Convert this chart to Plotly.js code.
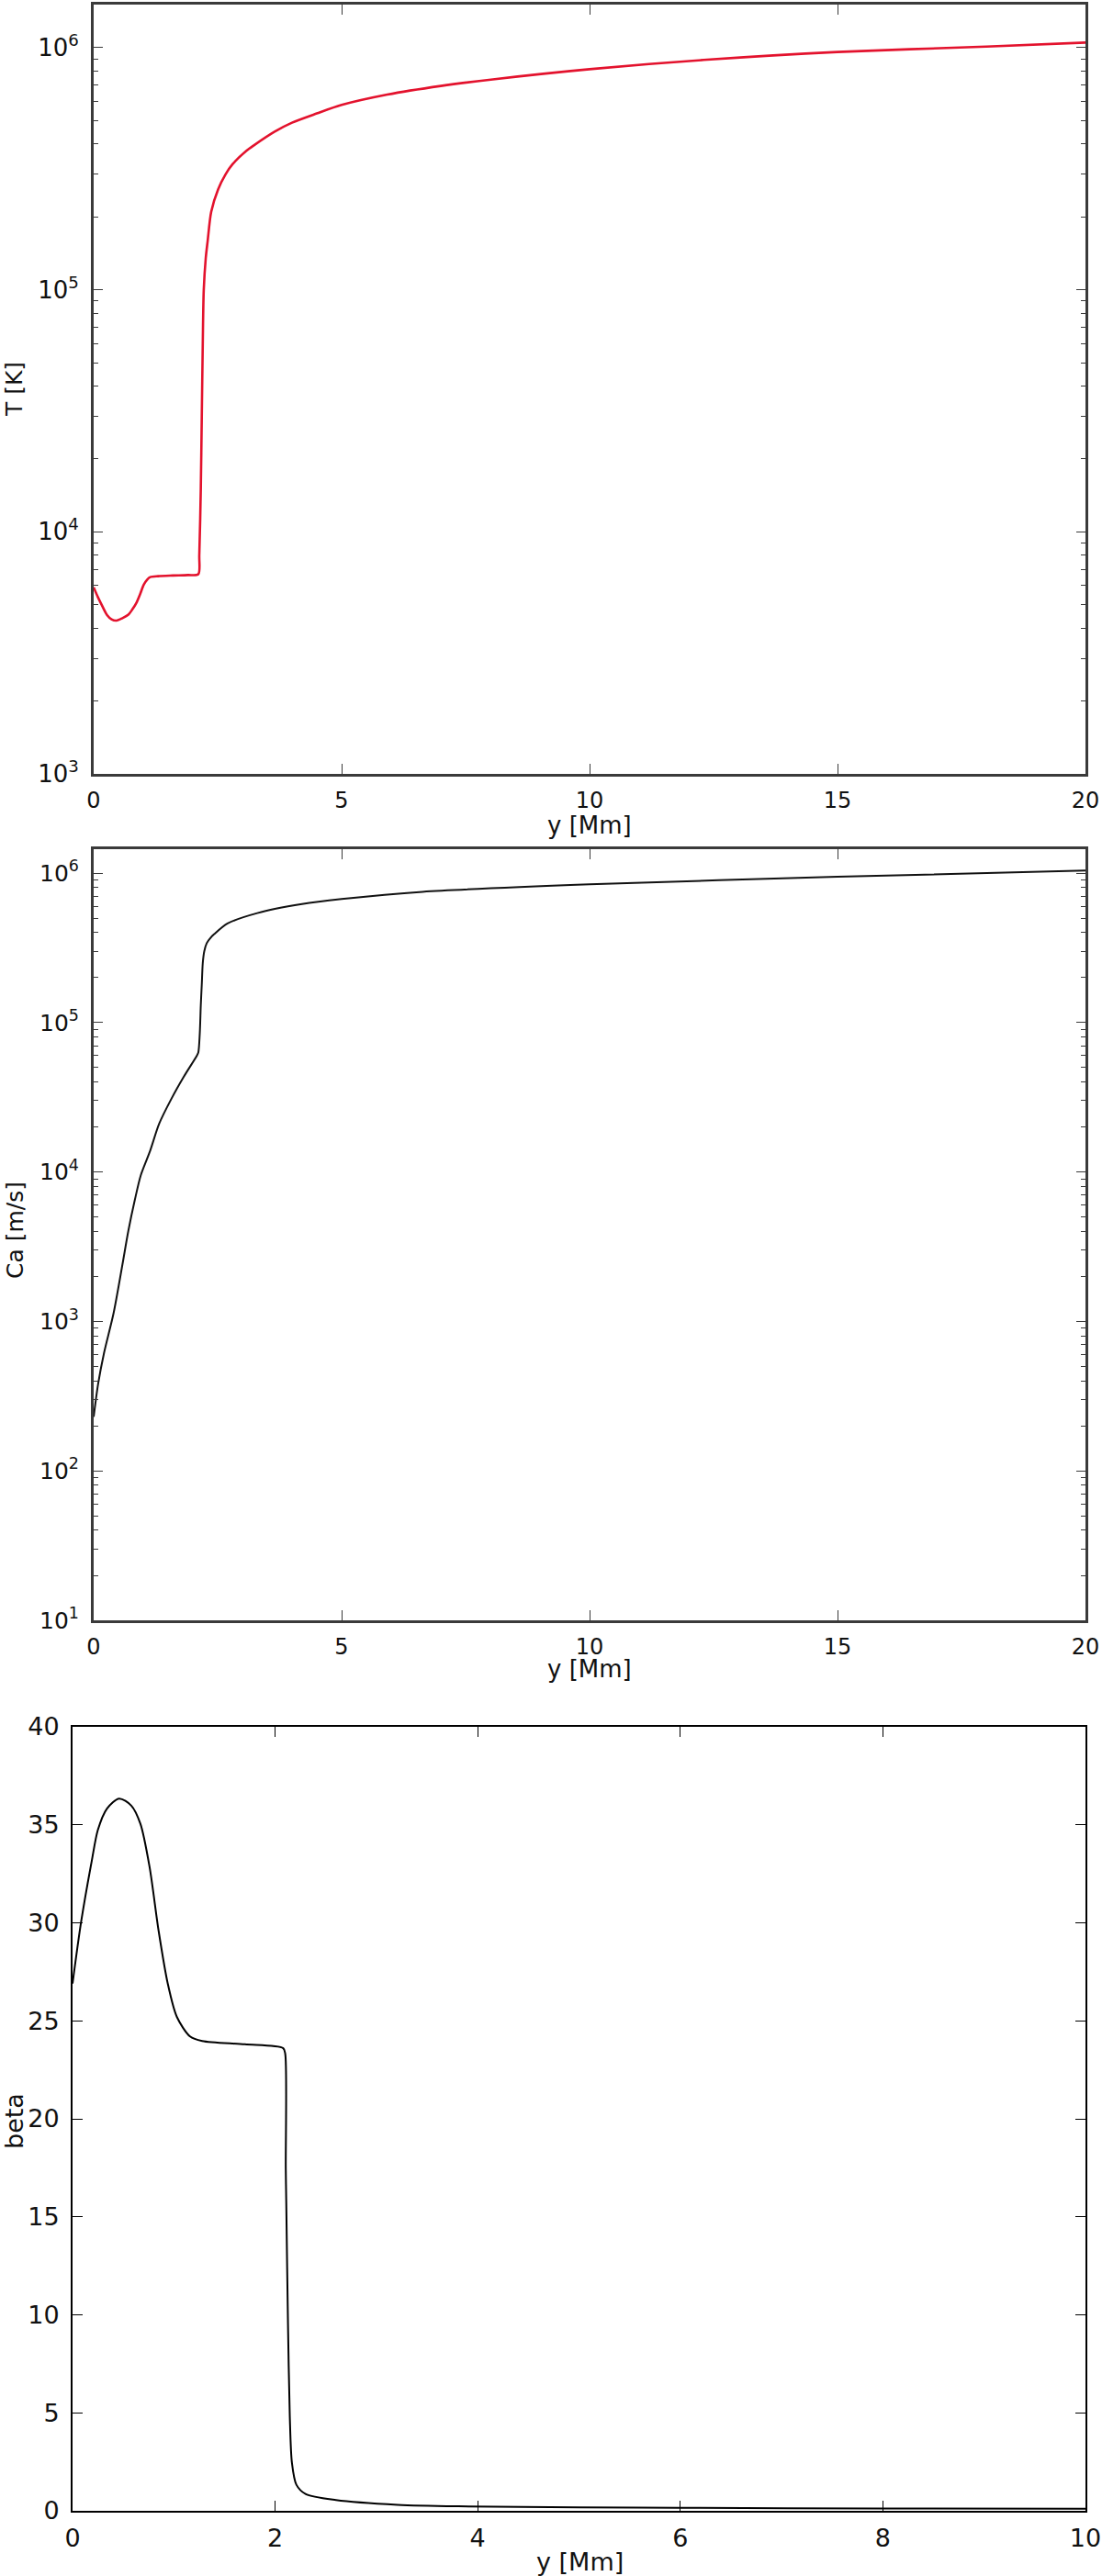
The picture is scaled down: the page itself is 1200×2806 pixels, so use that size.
<!DOCTYPE html>
<html>
<head>
<meta charset="utf-8">
<script src="https://cdn.plot.ly/plotly-3.0.1.min.js"></script>
<style>html,body{margin:0;padding:0;background:#fff;}</style>
</head>
<body>
<div id="chart" style="width:1200px;height:2806px;"></div>
<script>
// ---- Panel 1: temperature T [K] vs height y [Mm]
var yT = [0, 0.08, 0.15, 0.27, 0.36, 0.46, 0.58, 0.70, 0.78, 0.86, 0.94, 1.01, 1.08, 1.14, 1.3, 1.6, 1.9, 2.11,
          2.13, 2.16, 2.18, 2.20, 2.22, 2.26, 2.30, 2.37, 2.51, 2.66, 2.80, 3.08, 3.23, 3.65, 4.0, 4.5, 5.0,
          5.92, 7.0, 8.05, 10.0, 12.3, 15.0, 18.0, 20.0];
var T = [5900, 5400, 5050, 4530, 4350, 4300, 4400, 4550, 4780, 5080, 5550, 6050, 6350, 6500, 6560, 6600, 6630, 6680,
         8000, 15000, 30000, 60000, 100000, 135000, 160000, 210000, 260000, 300000, 330000, 375000, 395000, 450000, 490000, 535000, 580000,
         640000, 695000, 740000, 815000, 890000, 960000, 1010000, 1050000];

// ---- Panel 2: Alfven speed Ca [m/s]
var yCa = [0, 0.09, 0.21, 0.40, 0.58, 0.70, 0.83, 0.95, 1.14, 1.32, 1.57, 1.81, 2.08, 2.11,
           2.14, 2.16, 2.18, 2.20, 2.23, 2.28, 2.36, 2.43, 2.7, 3.3, 4.2, 5.0, 6.63, 10.0, 15.0, 20.0];
var Ca = [230, 382, 617, 1130, 2400, 4050, 6500, 9500, 13900, 21000, 31000, 43000, 60000, 63000,
          85000, 130000, 180000, 250000, 300000, 340000, 370000, 390000, 460000, 540000, 620000, 670000, 750000, 840000, 945000, 1040000];

// ---- Panel 3: plasma beta
var yB = [0, 0.085, 0.19, 0.25, 0.34, 0.46, 0.58, 0.67, 0.76, 0.85, 0.94, 1.03, 1.16, 1.28, 1.70, 2.08,
          2.10, 2.105, 2.11, 2.127, 2.145, 2.166, 2.21, 2.30, 2.60, 3.21, 3.81, 5.0, 6.0, 8.0, 10.0];
var beta = [26.9, 30.06, 33.17, 34.74, 35.83, 36.34, 35.98, 35.05, 32.86, 29.58, 26.9, 25.2, 24.2, 23.97, 23.8, 23.6,
            23.3, 17.5, 15.7, 9.5, 4.78, 2.44, 1.33, 0.86, 0.55, 0.31, 0.23, 0.18, 0.15, 0.12, 0.10];

// ---- Tick labels
var xTicks20 = [0, 5, 10, 15, 20];
var xTicks10 = [0, 2, 4, 6, 8, 10];
var tTicks = [1e3, 1e4, 1e5, 1e6];
var tTickText = ['10<sup>3</sup>', '10<sup>4</sup>', '10<sup>5</sup>', '10<sup>6</sup>'];
var caTicks = [1e1, 1e2, 1e3, 1e4, 1e5, 1e6];
var caTickText = ['10<sup>1</sup>', '10<sup>2</sup>', '10<sup>3</sup>', '10<sup>4</sup>', '10<sup>5</sup>', '10<sup>6</sup>'];
var betaTicks = [0, 5, 10, 15, 20, 25, 30, 35, 40];

function minorLog(lo, hi) {
  var v = [];
  for (var d = lo; d < hi; d++) {
    for (var m = 2; m <= 9; m++) v.push(m * Math.pow(10, d));
  }
  return v;
}

var W = 1200, H = 2806;
function px(x) { return x / W; }
function py(y) { return (H - y) / H; }

var fam = 'DejaVu Sans, Liberation Sans, sans-serif';
var gray = '#3a3a3a';

function xax(dom, anchor, range, vals, col, lw, fs) {
  return {
    domain: dom, anchor: anchor, range: range, tickvals: vals, ticktext: vals.map(String),
    ticks: 'inside', ticklen: 11, tickwidth: 1, tickcolor: col,
    showline: true, linecolor: col, linewidth: lw, mirror: 'ticks',
    showgrid: false, zeroline: false, ticklabelstandoff: 5,
    tickfont: {family: fam, size: fs, color: '#111'}
  };
}

var traces = [
  {x: yT, y: T, type: 'scatter', mode: 'lines', xaxis: 'x', yaxis: 'y',
   line: {color: '#e3122d', width: 2.6, shape: 'spline', smoothing: 0.8}, hoverinfo: 'x+y'},
  {x: yCa, y: Ca, type: 'scatter', mode: 'lines', xaxis: 'x2', yaxis: 'y2',
   line: {color: '#111111', width: 2, shape: 'spline', smoothing: 0.8}, hoverinfo: 'x+y'},
  {x: yB, y: beta, type: 'scatter', mode: 'lines', xaxis: 'x3', yaxis: 'y3',
   line: {color: '#000000', width: 2, shape: 'spline', smoothing: 0.8}, hoverinfo: 'x+y'}
];

var layout = {
  width: W, height: H,
  margin: {l: 0, r: 0, t: 0, b: 0},
  paper_bgcolor: '#ffffff', plot_bgcolor: '#ffffff',
  showlegend: false,
  font: {family: fam, color: '#111'},
  xaxis: xax([px(102), px(1182)], 'y', [0, 20], xTicks20, gray, 3, 24),
  yaxis: {
    domain: [py(843), py(5)], anchor: 'x', type: 'log', range: [3, 6.178],
    tickvals: tTicks, ticktext: tTickText,
    ticks: 'inside', ticklen: 10, tickwidth: 1, tickcolor: gray,
    minor: {tickvals: minorLog(3, 6), ticks: 'inside', ticklen: 5, tickcolor: gray, tickwidth: 1},
    showline: true, linecolor: gray, linewidth: 3, mirror: 'ticks',
    showgrid: false, zeroline: false, ticklabelstandoff: 8,
    tickfont: {family: fam, size: 26, color: '#111'}
  },
  xaxis2: xax([px(102), px(1182)], 'y2', [0, 20], xTicks20, gray, 3, 24),
  yaxis2: {
    domain: [py(1765), py(925)], anchor: 'x2', type: 'log', range: [1, 6.16],
    tickvals: caTicks, ticktext: caTickText,
    ticks: 'inside', ticklen: 10, tickwidth: 1, tickcolor: gray,
    minor: {tickvals: minorLog(1, 6), ticks: 'inside', ticklen: 5, tickcolor: gray, tickwidth: 1},
    showline: true, linecolor: gray, linewidth: 3, mirror: 'ticks',
    showgrid: false, zeroline: false, ticklabelstandoff: 8,
    tickfont: {family: fam, size: 25, color: '#111'}
  },
  xaxis3: xax([px(79), px(1182)], 'y3', [0, 10], xTicks10, '#000', 2, 27),
  yaxis3: {
    domain: [py(2735), py(1881)], anchor: 'x3', range: [0, 40],
    tickvals: betaTicks, ticktext: betaTicks.map(String),
    ticks: 'inside', ticklen: 11, tickwidth: 1, tickcolor: '#000',
    showline: true, linecolor: '#000', linewidth: 2, mirror: 'ticks',
    showgrid: false, zeroline: false, ticklabelstandoff: 7,
    tickfont: {family: fam, size: 27, color: '#111'}
  },
  annotations: [
    {text: 'y [Mm]', xref: 'paper', yref: 'paper', x: px(642), y: py(899), xanchor: 'center', yanchor: 'middle',
     showarrow: false, font: {family: fam, size: 26, color: '#111'}},
    {text: 'y [Mm]', xref: 'paper', yref: 'paper', x: px(642), y: py(1818), xanchor: 'center', yanchor: 'middle',
     showarrow: false, font: {family: fam, size: 26, color: '#111'}},
    {text: 'y [Mm]', xref: 'paper', yref: 'paper', x: px(631), y: py(2790), xanchor: 'center', yanchor: 'middle',
     showarrow: false, font: {family: fam, size: 27, color: '#111'}},
    {text: 'T [K]', xref: 'paper', yref: 'paper', x: px(15), y: py(424), xanchor: 'center', yanchor: 'middle',
     textangle: -90, showarrow: false, font: {family: fam, size: 25, color: '#111'}},
    {text: 'Ca [m/s]', xref: 'paper', yref: 'paper', x: px(16), y: py(1340), xanchor: 'center', yanchor: 'middle',
     textangle: -90, showarrow: false, font: {family: fam, size: 25, color: '#111'}},
    {text: 'beta', xref: 'paper', yref: 'paper', x: px(15), y: py(2311), xanchor: 'center', yanchor: 'middle',
     textangle: -90, showarrow: false, font: {family: fam, size: 27, color: '#111'}}
  ]
};

Plotly.newPlot('chart', traces, layout, {displayModeBar: false, staticPlot: true});
</script>
</body>
</html>
